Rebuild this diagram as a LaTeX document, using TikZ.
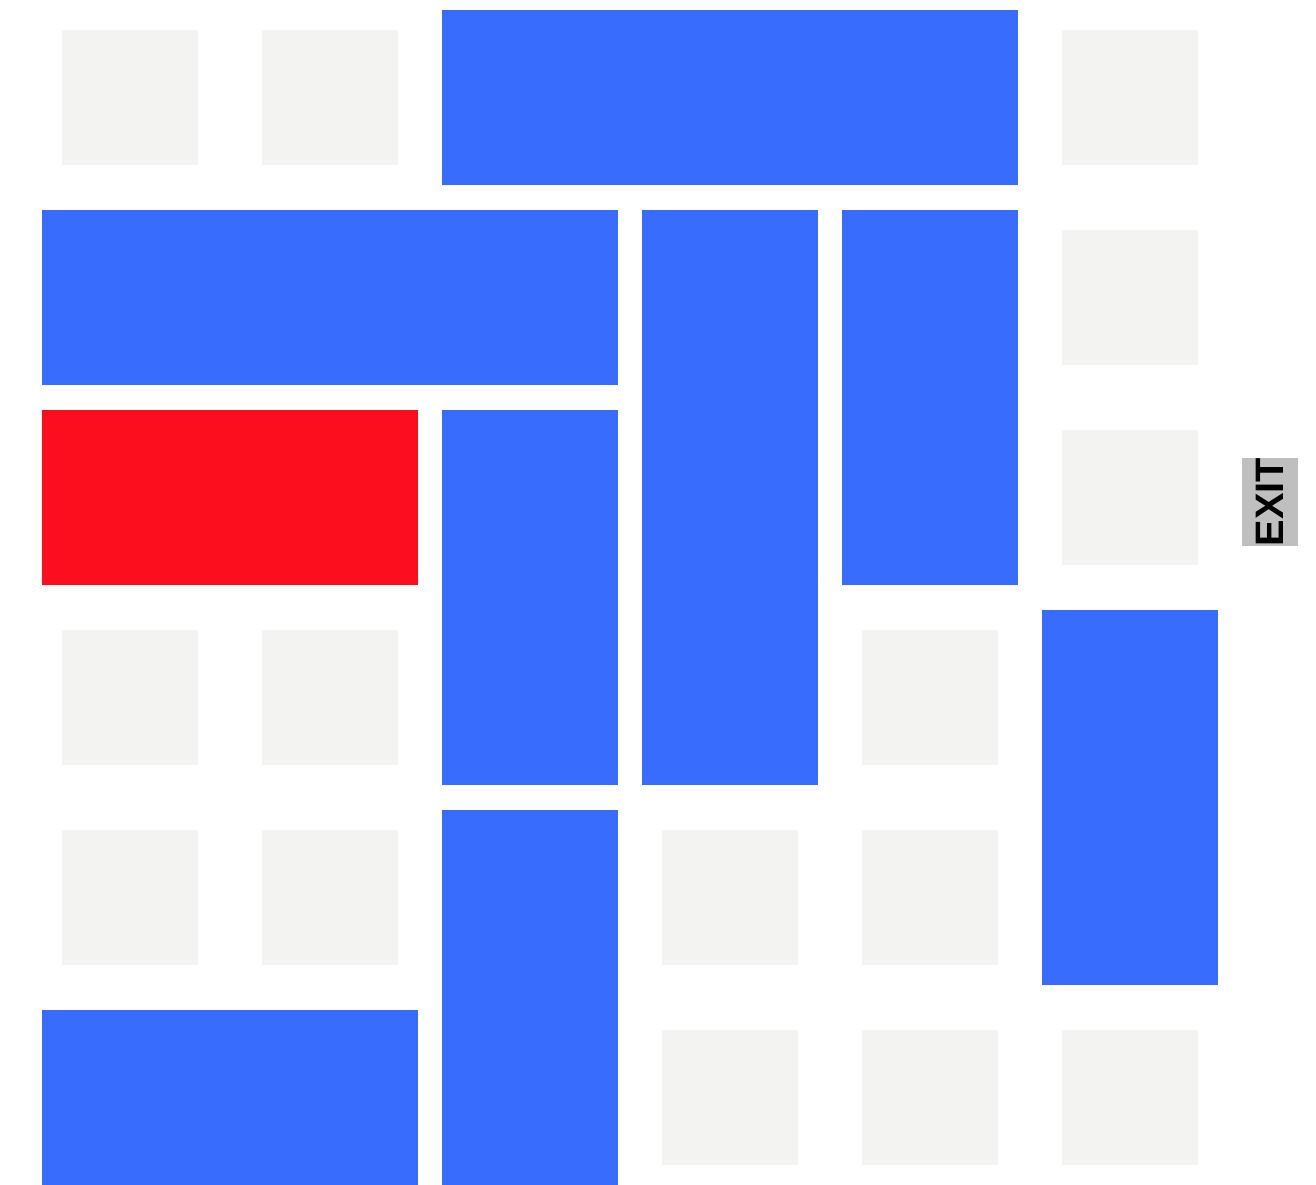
\documentclass[tikz,border=0pt]{standalone}
\usepackage{fontspec}
\usepackage{xcolor}
\usepackage{tikz}
\newfontfamily\signfont[BoldFont={Liberation Sans Bold}]{Liberation Sans}
\definecolor{CarBlue}{RGB}{56,108,252}
\definecolor{TargetRed}{RGB}{252,14,30}
\definecolor{EmptyGray}{RGB}{243,243,241}
\definecolor{SignGray}{RGB}{191,191,191}

\begin{document}
\begin{tikzpicture}[x=0.01cm, y=-0.01cm,
    cell/.style={fill=EmptyGray},
    car/.style={fill=CarBlue},
    target/.style={fill=TargetRed},
    exitsign/.style={fill=SignGray, rotate=90, inner sep=0pt, minimum width=0.88cm, minimum height=0.56cm, font=\signfont\bfseries\fontsize{11.3}{13}\selectfont}
  ]
    \useasboundingbox (0,0) rectangle (1316,1184);
    % empty cells
    \foreach \c/\r in {0/0,1/0,5/0,5/1,5/2,0/3,1/3,4/3,0/4,1/4,3/4,4/4,3/5,4/5,5/5}
      \fill[cell] ({62+200*\c},{30+200*\r}) rectangle ++(136,135);
    % cars: column/row/width/height
    \foreach \c/\r/\w/\h in {2/0/3/1,0/1/3/1,3/1/1/3,4/1/1/2,2/2/1/2,5/3/1/2,2/4/1/2,0/5/2/1}
      \fill[car] ({42+200*\c},{10+200*\r}) rectangle ({18+200*(\c+\w)},{-15+200*(\r+\h)});
    \fill[target] (42,410) rectangle (418,585);
    \node[exitsign] (exit) at (1270,502) {EXIT};
  \end{tikzpicture}
\end{document}
